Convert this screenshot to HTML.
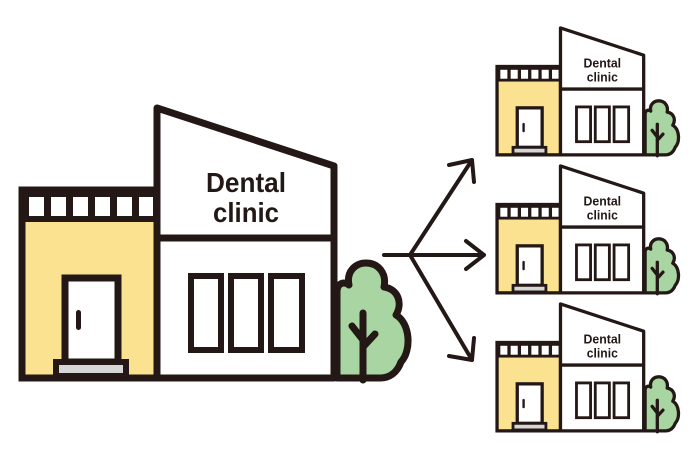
<!DOCTYPE html>
<html><head><meta charset="utf-8"><style>
html,body{margin:0;padding:0;background:#fff;width:700px;height:460px;overflow:hidden}
svg{display:block}
text{font-family:"Liberation Sans Narrow","Liberation Sans",sans-serif;font-weight:bold;fill:#231815;text-anchor:middle}
</style></head><body>
<svg width="700" height="460" viewBox="0 0 700 460">
<defs>
<g id="h">
  <!-- tree -->
  <path d="M337,378 L337,292 C337,283 344,281 349,285 C346,271 356,263 366,263 C378,263 387,273 384,287 C398,289 403,303 396,315 C410,323 412,350 401,362 C397,373 389,378 380,378 Z" fill="#a8d5a2" stroke="#231815" stroke-width="7" stroke-linejoin="round"/>
  <path d="M363,313 V380 M352,326 L363,340 M375,334 L363,347" fill="none" stroke="#231815" stroke-width="7" stroke-linecap="round" stroke-linejoin="round"/>
  <!-- left block -->
  <rect x="22" y="190" width="135" height="188" fill="#fbe290" stroke="#231815" stroke-width="7"/>
  <rect x="22" y="190" width="135" height="32" fill="#231815"/>
  <g fill="#fff">
    <rect x="29" y="197" width="15" height="19"/><rect x="51" y="197" width="15" height="19"/><rect x="73" y="197" width="15" height="19"/><rect x="95" y="197" width="15" height="19"/><rect x="117" y="197" width="15" height="19"/><rect x="139" y="197" width="14" height="19"/>
  </g>
  <rect x="65" y="278" width="53" height="84" fill="#fff" stroke="#231815" stroke-width="7"/>
  <rect x="76" y="310" width="5" height="20" rx="2.5" fill="#231815"/>
  <rect x="56" y="362" width="70" height="14" fill="#d6d6d6" stroke="#231815" stroke-width="6"/>
  <!-- tall block -->
  <path d="M157,108 L334,166 L334,378 L157,378 Z" fill="#fff" stroke="#231815" stroke-width="7" stroke-linejoin="round"/>
  <line x1="157" y1="238" x2="334" y2="238" stroke="#231815" stroke-width="7"/>
  <g fill="none" stroke="#231815" stroke-width="6">
    <rect x="191" y="276" width="30" height="74"/><rect x="231" y="276" width="30" height="74"/><rect x="271" y="276" width="31" height="74"/>
  </g>
  <text x="246" y="192" font-size="28" textLength="80" lengthAdjust="spacingAndGlyphs">Dental</text>
  <text x="246" y="222" font-size="28" textLength="66" lengthAdjust="spacingAndGlyphs">clinic</text>
</g>
</defs>
<use href="#h"/>
<use href="#h" transform="translate(486.7,-22.8) scale(0.47)"/>
<use href="#h" transform="translate(486.7,115.2) scale(0.47)"/>
<use href="#h" transform="translate(486.7,253.2) scale(0.47)"/>
<g fill="none" stroke="#231815" stroke-width="4" stroke-linecap="round" stroke-linejoin="round">
  <path d="M384,255 H484 M466,241 L484,255 L466,269"/>
  <path d="M410,255 L472,160 M449,165 L472,160 L474,182"/>
  <path d="M410,255 L472,360 M449,356 L472,360 L474,338"/>
</g>
</svg>
</body></html>
